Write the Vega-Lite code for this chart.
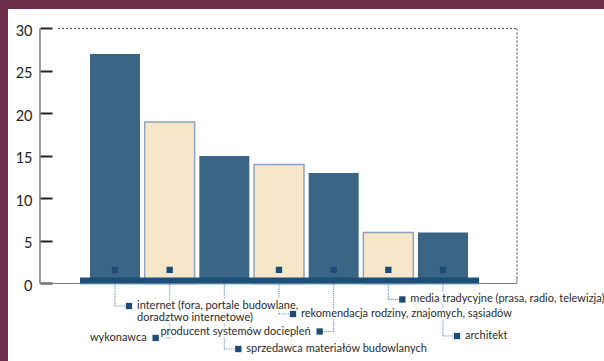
{
  "$schema": "https://vega.github.io/schema/vega-lite/v6.json",
  "width": 596,
  "height": 352,
  "autosize": {"type": "none"},
  "padding": {"left": 8, "top": 9, "right": 0, "bottom": 0},
  "background": "#6e2f4c",
  "config": {
    "view": {"fill": "white", "stroke": null},
    "font": "Lato",
    "axisX": {"disable": true}
  },
  "data": {
    "values": [
      {"rank": 1, "value": 27, "label": "internet (fora, portale budowlane,\ndoradztwo internetowe)", "depth": -2.65, "side": "right", "marker": true},
      {"rank": 2, "value": 19, "label": "wykonawca", "depth": -6.41, "side": "left", "marker": true},
      {"rank": 3, "value": 15, "label": "sprzedawca materiałów budowlanych", "depth": -7.71, "side": "right", "marker": false},
      {"rank": 4, "value": 14, "label": "rekomendacja rodziny, znajomych, sąsiadów", "depth": -3.59, "side": "right", "marker": true},
      {"rank": 5, "value": 13, "label": "producent systemów dociepleń", "depth": -5.65, "side": "left", "marker": true},
      {"rank": 6, "value": 6, "label": "media tradycyjne (prasa, radio, telewizja)", "depth": -1.88, "side": "right", "marker": true},
      {"rank": 7, "value": 6, "label": "architekt", "depth": -6.18, "side": "right", "marker": true}
    ]
  },
  "layer": [
    {
      "mark": {"type": "bar", "width": 50, "strokeWidth": 1.5, "orient": "vertical"},
      "encoding": {
        "x": {"field": "rank", "type": "quantitative", "scale": {"domain": [-0.957, 9.945], "nice": false, "zero": false, "padding": 0}, "title": null},
        "y": {
          "field": "value", "type": "quantitative", "title": null,
          "scale": {"domain": [-9.12, 32.29], "nice": false, "zero": false, "padding": 0},
          "axis": {
            "orient": "left", "offset": -32, "values": [0, 5, 10, 15, 20, 25, 30],
            "title": null, "domain": false, "grid": false,
            "tickSize": -12, "tickWidth": 2, "tickColor": "#222",
            "labelPadding": 20, "labelOffset": 3,
            "labelFont": "Lato", "labelFontSize": 14.5, "labelColor": "#222"
          }
        },
        "y2": {"datum": 0},
        "color": {"condition": {"test": "datum.rank % 2 === 0", "value": "#f7e7ca"}, "value": "#3b6585"},
        "stroke": {"value": "#8fa3c0"},
        "strokeOpacity": {"condition": {"test": "datum.rank % 2 === 0", "value": 1}, "value": 0}
      }
    },
    {
      "transform": [{"filter": "datum.marker"}],
      "mark": {"type": "point", "shape": "square", "filled": true, "size": 40, "opacity": 1, "color": "#1b4d77"},
      "encoding": {
        "x": {"field": "rank", "type": "quantitative", "title": null},
        "y": {"datum": 1.6, "type": "quantitative", "title": null}
      }
    },
    {
      "mark": {"type": "rule", "color": "#6f9bcb", "strokeDash": [1.2, 1], "strokeWidth": 1.2},
      "encoding": {
        "x": {"field": "rank", "type": "quantitative", "title": null},
        "y": {"field": "depth", "type": "quantitative", "title": null},
        "y2": {"datum": 0}
      }
    },
    {
      "transform": [{"filter": "datum.side === 'right'"}],
      "mark": {"type": "rule", "color": "#6f9bcb", "strokeDash": [1.2, 1], "strokeWidth": 1.2, "x2Offset": 12},
      "encoding": {
        "x": {"field": "rank", "type": "quantitative", "title": null},
        "x2": {"field": "rank"},
        "y": {"field": "depth", "type": "quantitative", "title": null}
      }
    },
    {
      "transform": [{"filter": "datum.side === 'left'"}],
      "mark": {"type": "rule", "color": "#6f9bcb", "strokeDash": [1.2, 1], "strokeWidth": 1.2, "x2Offset": -12},
      "encoding": {
        "x": {"field": "rank", "type": "quantitative", "title": null},
        "x2": {"field": "rank"},
        "y": {"field": "depth", "type": "quantitative", "title": null}
      }
    },
    {
      "mark": {"type": "rect", "color": "#1b4e78", "xOffset": -35, "x2Offset": 36},
      "encoding": {
        "x": {"aggregate": "min", "field": "rank", "type": "quantitative", "title": null},
        "x2": {"aggregate": "max", "field": "rank"},
        "y": {"datum": 0.69, "type": "quantitative", "title": null},
        "y2": {"datum": -0.09}
      }
    },
    {
      "data": {"values": [{}]},
      "mark": {"type": "rule", "color": "#5a5a5a", "strokeWidth": 1.2},
      "encoding": {
        "x": {"datum": -0.372, "type": "quantitative", "title": null},
        "y": {"datum": 30, "type": "quantitative", "title": null},
        "y2": {"datum": 0}
      }
    },
    {
      "data": {"values": [{}]},
      "mark": {"type": "rule", "color": "#7a7a7a", "strokeWidth": 1},
      "encoding": {
        "x": {"datum": -0.372, "type": "quantitative", "title": null},
        "x2": {"datum": 8.353},
        "y": {"datum": 0, "type": "quantitative", "title": null}
      }
    },
    {
      "data": {"values": [{}]},
      "mark": {"type": "rule", "color": "#7a7a7a", "strokeWidth": 1},
      "encoding": {
        "x": {"datum": 8.353, "type": "quantitative", "title": null},
        "y": {"datum": 0.65, "type": "quantitative", "title": null},
        "y2": {"datum": 0}
      }
    },
    {
      "data": {"values": [{}]},
      "mark": {"type": "rule", "color": "#3a3a3a", "strokeWidth": 1, "strokeDash": [2, 2]},
      "encoding": {
        "x": {"datum": 8.353, "type": "quantitative", "title": null},
        "y": {"datum": 30, "type": "quantitative", "title": null},
        "y2": {"datum": 0.65}
      }
    },
    {
      "data": {"values": [{}]},
      "mark": {"type": "rule", "color": "#4a4a4a", "strokeWidth": 1, "strokeDash": [2, 2]},
      "encoding": {
        "x": {"datum": -0.042, "type": "quantitative", "title": null},
        "x2": {"datum": 8.353},
        "y": {"datum": 30, "type": "quantitative", "title": null}
      }
    },
    {
      "transform": [{"filter": "datum.side === 'right'"}],
      "mark": {"type": "text", "align": "left", "baseline": "middle", "dx": 22, "fontSize": 11, "lineHeight": 12, "lineBreak": "\n", "fill": "white", "stroke": "white", "strokeWidth": 5, "strokeJoin": "round"},
      "encoding": {
        "x": {"field": "rank", "type": "quantitative", "title": null},
        "y": {"field": "depth", "type": "quantitative", "title": null},
        "text": {"field": "label", "type": "nominal"}
      }
    },
    {
      "transform": [{"filter": "datum.side === 'left'"}],
      "mark": {"type": "text", "align": "right", "baseline": "middle", "dx": -23, "fontSize": 11, "lineHeight": 12, "lineBreak": "\n", "fill": "white", "stroke": "white", "strokeWidth": 5, "strokeJoin": "round"},
      "encoding": {
        "x": {"field": "rank", "type": "quantitative", "title": null},
        "y": {"field": "depth", "type": "quantitative", "title": null},
        "text": {"field": "label", "type": "nominal"}
      }
    },
    {
      "transform": [{"filter": "datum.side === 'right'"}],
      "mark": {"type": "text", "align": "left", "baseline": "middle", "dx": 22, "fontSize": 11, "lineHeight": 12, "lineBreak": "\n", "color": "#2b2b2b"},
      "encoding": {
        "x": {"field": "rank", "type": "quantitative", "title": null},
        "y": {"field": "depth", "type": "quantitative", "title": null},
        "text": {"field": "label", "type": "nominal"}
      }
    },
    {
      "transform": [{"filter": "datum.side === 'left'"}],
      "mark": {"type": "text", "align": "right", "baseline": "middle", "dx": -23, "fontSize": 11, "lineHeight": 12, "lineBreak": "\n", "color": "#2b2b2b"},
      "encoding": {
        "x": {"field": "rank", "type": "quantitative", "title": null},
        "y": {"field": "depth", "type": "quantitative", "title": null},
        "text": {"field": "label", "type": "nominal"}
      }
    },
    {
      "transform": [{"filter": "datum.side === 'right'"}],
      "mark": {"type": "point", "shape": "square", "filled": true, "size": 40, "opacity": 1, "color": "#1b4d77", "xOffset": 14},
      "encoding": {
        "x": {"field": "rank", "type": "quantitative", "title": null},
        "y": {"field": "depth", "type": "quantitative", "title": null}
      }
    },
    {
      "transform": [{"filter": "datum.side === 'left'"}],
      "mark": {"type": "point", "shape": "square", "filled": true, "size": 40, "opacity": 1, "color": "#1b4d77", "xOffset": -14},
      "encoding": {
        "x": {"field": "rank", "type": "quantitative", "title": null},
        "y": {"field": "depth", "type": "quantitative", "title": null}
      }
    }
  ]
}
